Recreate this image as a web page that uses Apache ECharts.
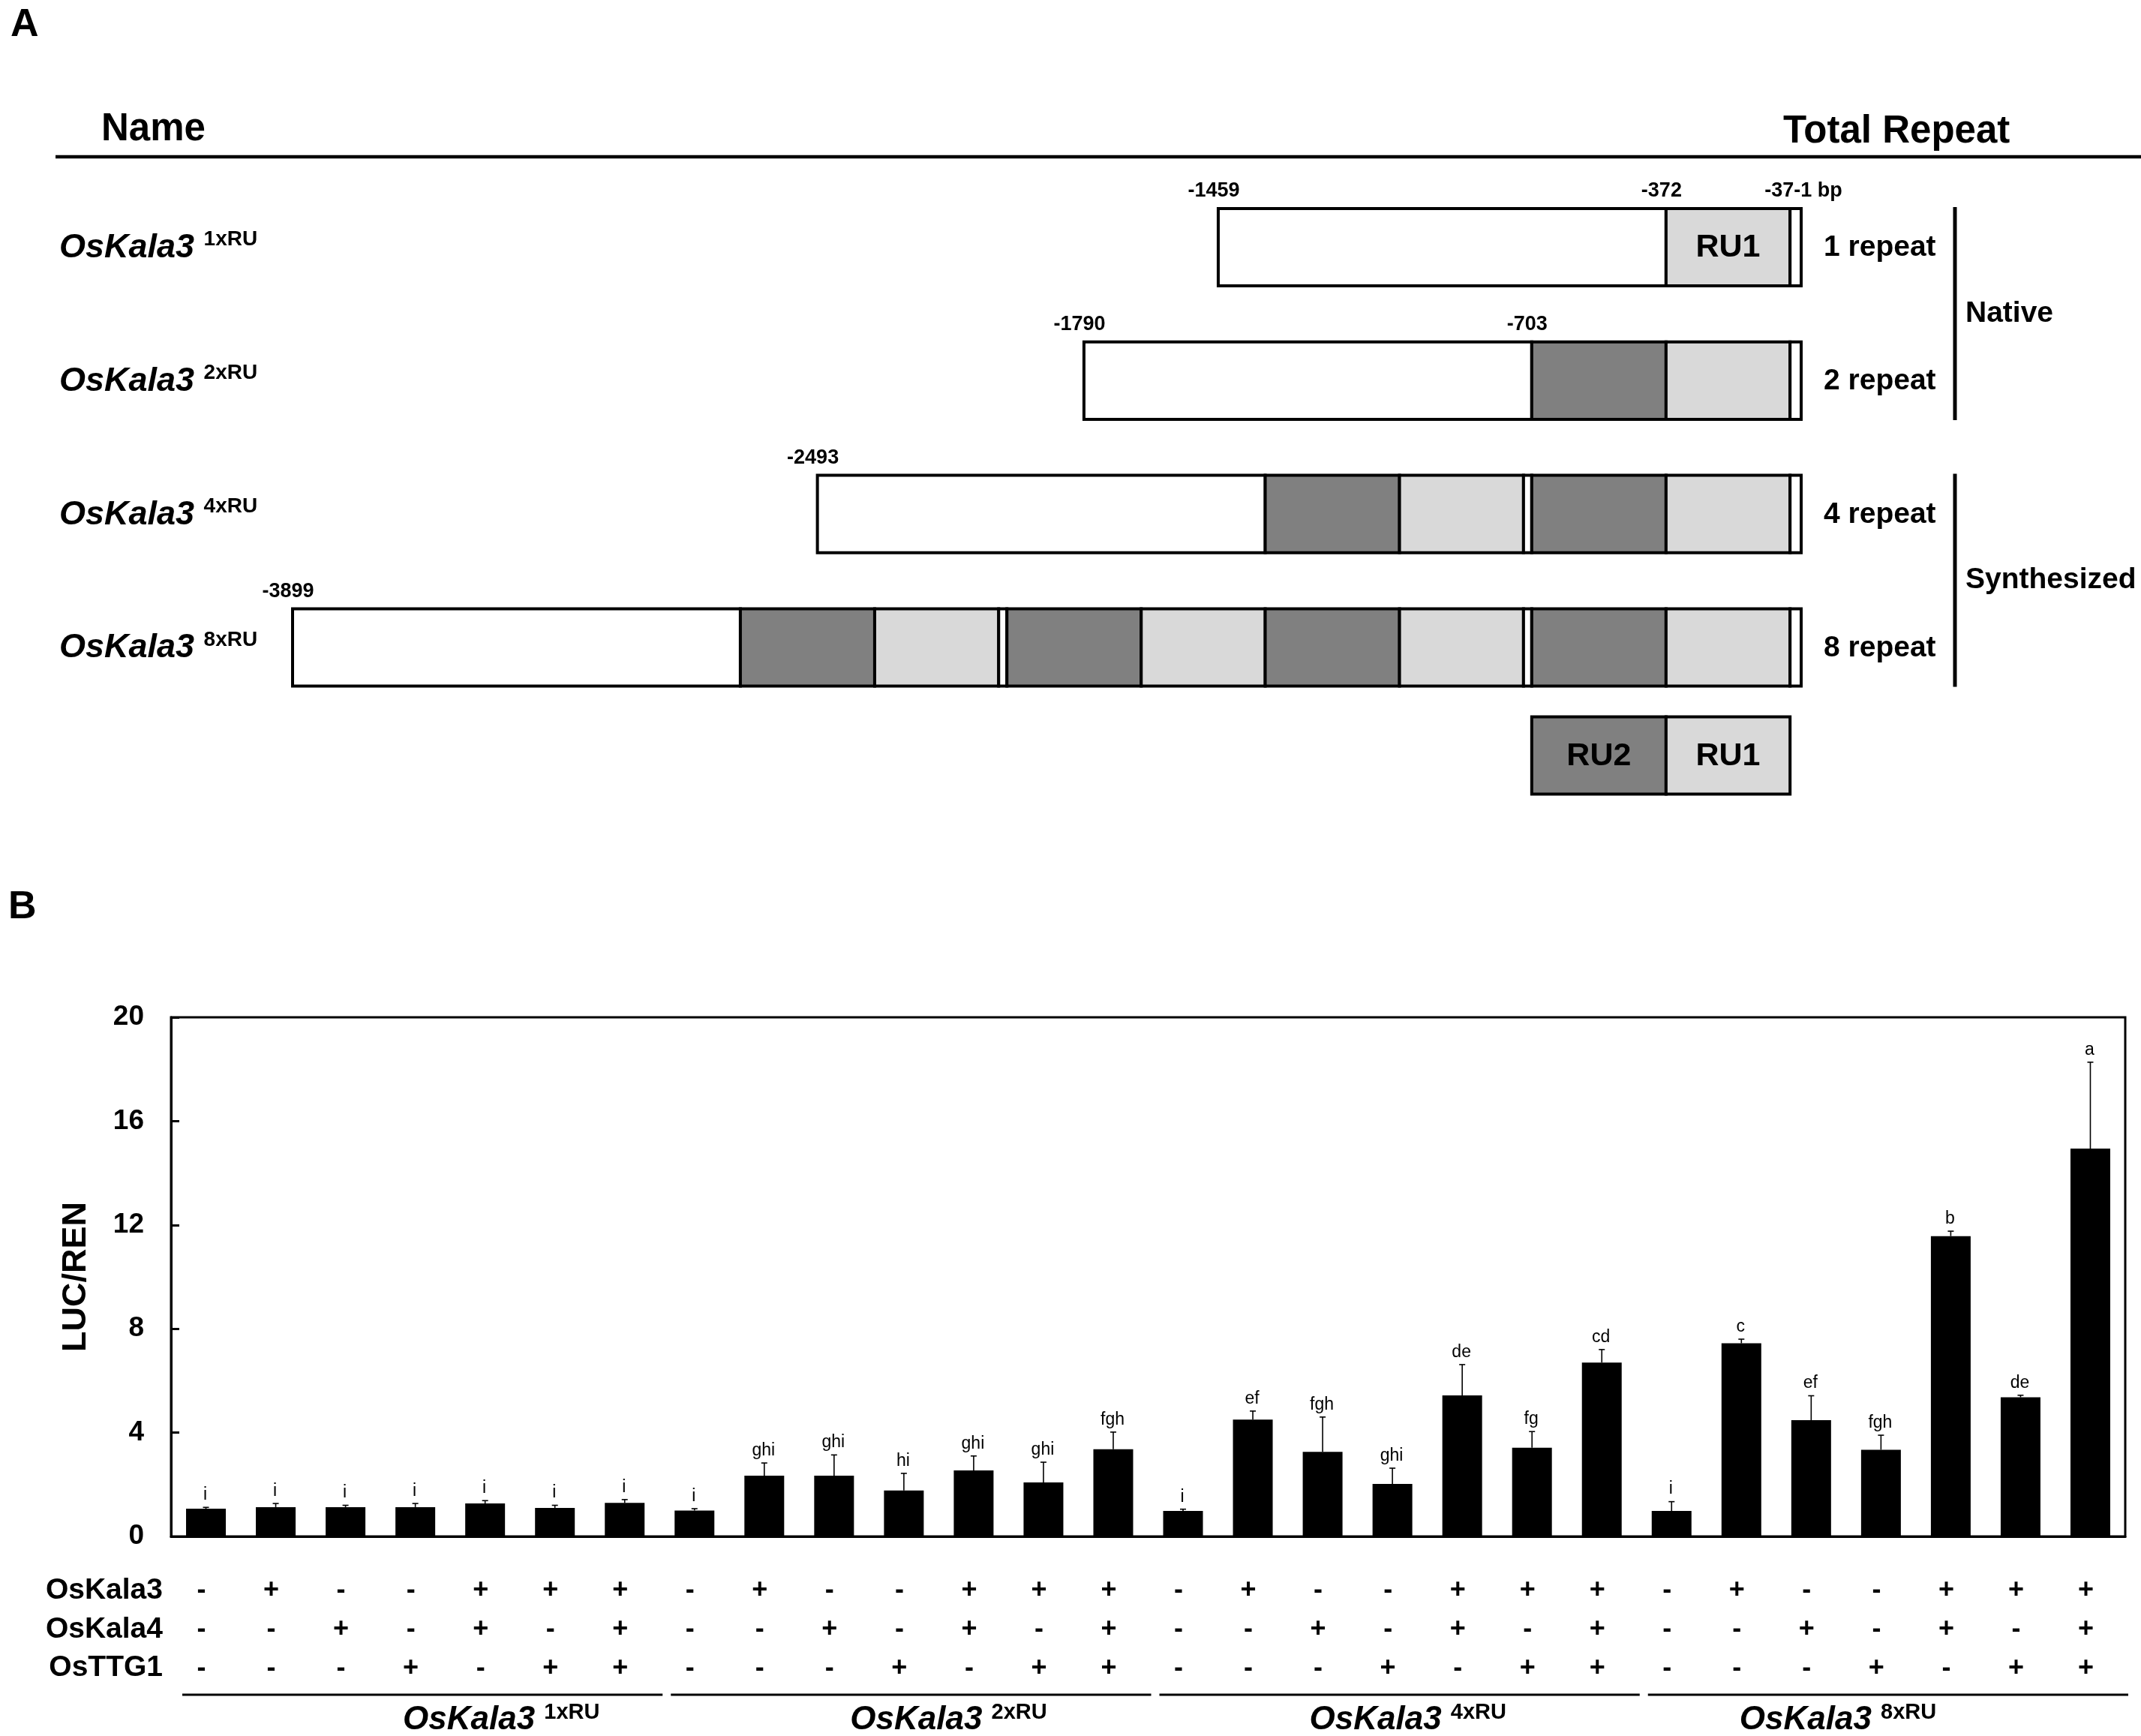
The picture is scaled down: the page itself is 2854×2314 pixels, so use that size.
<!DOCTYPE html>
<html><head><meta charset="utf-8">
<script src="https://cdn.jsdelivr.net/npm/echarts@6/dist/echarts.min.js"></script>
<style>html,body{margin:0;padding:0;background:#fff}#c{width:2854px;height:2314px}</style>
</head><body><div id="c"></div><script>
const FONT = '"Liberation Sans", Arial, Helvetica, sans-serif';

// ---------------- Panel A data ----------------
const constructNames = ['1xRU', '2xRU', '4xRU', '8xRU'];
const repeatLabels = ['1 repeat', '2 repeat', '4 repeat', '8 repeat'];
const rowPositions = [0, 1, 2, 3];
const legendRowPosition = 3.81;
// drawn segment lengths (bp, as drawn in the schematic)
const segmentLengths = { P: 1087, RU2: 326, RU1: 301, G: 20, T: 27 };
const segmentColors = { P: '#ffffff', RU2: '#808080', RU1: '#d9d9d9', G: '#ffffff', T: '#ffffff' };
const layout1x = ['P', 'RU1', 'T'];
const layout2x = ['P', 'RU2', 'RU1', 'T'];
const layout4x = ['P', 'RU2', 'RU1', 'G', 'RU2', 'RU1', 'T'];
const layout8x = ['P', 'RU2', 'RU1', 'G', 'RU2', 'RU1', 'RU2', 'RU1', 'G', 'RU2', 'RU1', 'T'];
const legendLayout = ['RU2', 'RU1'];
// [row, boundary index, text]
const positionLabels = [
  [0, 0, '-1459'], [0, 1, '-372'], [0, 3, '-37-1 bp'],
  [1, 0, '-1790'], [1, 1, '-703'],
  [2, 0, '-2493'],
  [3, 0, '-3899']
];
const insideLabels = [[0, 1, 'RU1']];
const bracketGroups = [[0, 1, 'Native'], [2, 3, 'Synthesized']];

// ---------------- Panel B data ----------------
const groupNames = ['1xRU', '2xRU', '4xRU', '8xRU'];
const groupRanges = [[0, 6], [7, 13], [14, 20], [21, 27]];
const kala3 = ['-','+','-','-','+','+','+', '-','+','-','-','+','+','+', '-','+','-','-','+','+','+', '-','+','-','-','+','+','+'];
const kala4 = ['-','-','+','-','+','-','+', '-','-','+','-','+','-','+', '-','-','+','-','+','-','+', '-','-','+','-','+','-','+'];
const ttg1  = ['-','-','-','+','-','+','+', '-','-','-','+','-','+','+', '-','-','-','+','-','+','+', '-','-','-','+','-','+','+'];
const lucRen = [1.07, 1.13, 1.13, 1.13, 1.27, 1.10, 1.29,
                1.00, 2.34, 2.34, 1.77, 2.54, 2.08, 3.36,
                0.98, 4.50, 3.26, 2.02, 5.43, 3.42, 6.70,
                0.98, 7.44, 4.48, 3.34, 11.57, 5.36, 14.94];
const lucRenErr = [0.05, 0.14, 0.07, 0.14, 0.11, 0.10, 0.13,
                   0.07, 0.49, 0.80, 0.66, 0.56, 0.78, 0.66,
                   0.07, 0.33, 1.34, 0.61, 1.19, 0.62, 0.50,
                   0.36, 0.16, 0.94, 0.56, 0.19, 0.08, 3.33];
const sigLetters = ['i','i','i','i','i','i','i',
                    'i','ghi','ghi','hi','ghi','ghi','fgh',
                    'i','ef','fgh','ghi','de','fg','cd',
                    'i','c','ef','fgh','b','de','a'];
const yMin = 0, yMax = 20, yInterval = 4;
const tableRowNames = ['OsKala3', 'OsKala4', 'OsTTG1'];

// ---------------- layout constants ----------------
const BOX_H = 0.58;
const groupLabelShift = [309, 254, 215, 137];

// ---------------- build panel A segments ----------------
const layouts = [layout1x, layout2x, layout4x, layout8x];
const segData = [];
const boundaries = [];
function buildRow(layout, row, endPos, withText) {
  let total = 0;
  layout.forEach(k => total += segmentLengths[k]);
  let pos = endPos - total;
  const b = [pos];
  layout.forEach((k, j) => {
    const start = pos, end = pos + segmentLengths[k];
    let text = null;
    if (withText) text = k;
    insideLabels.forEach(l => { if (!withText && l[0] === row && l[1] === j) text = l[2]; });
    segData.push({ start, end, row, color: segmentColors[k], text });
    pos = end;
    b.push(pos);
  });
  return b;
}
layouts.forEach((l, r) => boundaries.push(buildRow(l, rowPositions[r], 0, false)));
buildRow(legendLayout, legendRowPosition, -segmentLengths.T, true);
let maxTotal = 0;
layouts.forEach(l => { let t = 0; l.forEach(k => t += segmentLengths[k]); maxTotal = Math.max(maxTotal, t); });

const posLabelData = positionLabels.map(p => [boundaries[p[0]][p[1]], rowPositions[p[0]]]);

const chart = echarts.init(document.getElementById('c'), null, { renderer: 'canvas' });

function txt(x, y, text, size, opts) {
  return {
    type: 'text', x, y,
    style: Object.assign({
      text, fill: '#000', fontFamily: FONT, fontSize: size, fontWeight: 'bold',
      align: 'left', textAlign: 'left', verticalAlign: 'middle', textVerticalAlign: 'middle'
    }, opts || {})
  };
}

const option = {
  animation: false,
  backgroundColor: '#fff',
  textStyle: { fontFamily: FONT, color: '#000' },
  grid: [
    { left: 390, top: 240.6, width: 2011, height: 853.5 },
    { left: 228, top: 1356, width: 2605, height: 692, show: true, borderColor: '#000', borderWidth: 3, backgroundColor: 'transparent' }
  ],
  xAxis: [
    { type: 'value', gridIndex: 0, min: -maxTotal, max: 0, show: false },
    {
      type: 'category', gridIndex: 1, data: lucRen.map((v, i) => 'c' + i),
      axisLine: { lineStyle: { color: '#000', width: 3 } },
      axisTick: { show: false },
      axisLabel: {
        interval: 0, margin: 46, padding: [0, 12, 0, 0],
        formatter: (v, i) => '{s|' + kala3[i] + '}\n{s|' + kala4[i] + '}\n{s|' + ttg1[i] + '}',
        rich: { s: { fontSize: 36, fontWeight: 'bold', lineHeight: 52, color: '#000', fontFamily: FONT } }
      }
    }
  ],
  yAxis: [
    { type: 'value', gridIndex: 0, min: -0.5, max: 4.3, inverse: true, show: false },
    {
      type: 'value', gridIndex: 1, min: yMin, max: yMax, interval: yInterval,
      axisLine: { show: true, lineStyle: { color: '#000', width: 3 } },
      axisTick: { show: true, inside: true, length: 11, lineStyle: { color: '#000', width: 3 } },
      axisLabel: { fontSize: 37, fontWeight: 'bold', color: '#000', margin: 36, fontFamily: FONT },
      splitLine: { show: false },
      name: 'LUC/REN', nameLocation: 'middle', nameGap: 104,
      nameTextStyle: { fontSize: 45, fontWeight: 'bold', color: '#000', fontFamily: FONT }
    }
  ],
  graphic: [
    txt(14, 34, 'A', 52),
    txt(11, 1210, 'B', 52),
    txt(135, 173, 'Name', 51),
    txt(2377, 176, 'Total Repeat', 51),
    { type: 'line', shape: { x1: 74, y1: 209, x2: 2854, y2: 209 }, style: { stroke: '#000', lineWidth: 4.5 } },
    txt(217, 2120, tableRowNames[0], 39, { align: 'right', textAlign: 'right' }),
    txt(217, 2172, tableRowNames[1], 39, { align: 'right', textAlign: 'right' }),
    txt(217, 2223, tableRowNames[2], 39, { align: 'right', textAlign: 'right' })
  ],
  series: [
    // Panel A segments
    {
      type: 'custom', xAxisIndex: 0, yAxisIndex: 0, clip: false,
      data: segData.map(s => [s.start, s.end, s.row]),
      encode: { x: [0, 1], y: 2 },
      renderItem: (params, api) => {
        const s = segData[params.dataIndex];
        const p0 = api.coord([s.start, s.row]);
        const p1 = api.coord([s.end, s.row]);
        const h = api.size([0, BOX_H])[1];
        const ch = [{ type: 'rect', shape: { x: p0[0], y: p0[1] - h / 2, width: p1[0] - p0[0], height: h },
          style: { fill: s.color, stroke: '#000', lineWidth: 4 } }];
        if (s.text) ch.push(txt((p0[0] + p1[0]) / 2, p0[1] + 1, s.text, 43,
          { align: 'center', textAlign: 'center' }));
        return { type: 'group', children: ch };
      }
    },
    // Panel A position labels
    {
      type: 'custom', xAxisIndex: 0, yAxisIndex: 0, clip: false,
      data: posLabelData, encode: { x: 0, y: 1 },
      renderItem: (params, api) => {
        const lab = positionLabels[params.dataIndex];
        const p = api.coord([api.value(0), api.value(1)]);
        const h = api.size([0, BOX_H])[1];
        const isEnd = lab[2].indexOf('bp') >= 0;
        return txt(p[0] + (isEnd ? 3 : -6), p[1] - h / 2 - 23, lab[2], 27,
          { align: 'center', textAlign: 'center' });
      }
    },
    // Panel A row names and repeat labels
    {
      type: 'custom', xAxisIndex: 0, yAxisIndex: 0, clip: false,
      data: rowPositions.map(r => [0, r]), encode: { x: 0, y: 1 },
      renderItem: (params, api) => {
        const i = params.dataIndex;
        const p = api.coord([0, api.value(1)]);
        return { type: 'group', children: [
          {
            type: 'text', x: 79, y: p[1] + 1,
            style: {
              text: '{m|OsKala3 }{s|' + constructNames[i] + '}',
              align: 'left', textAlign: 'left', verticalAlign: 'middle', textVerticalAlign: 'middle',
              rich: {
                m: { fontSize: 45, fontWeight: 'bold', fontStyle: 'italic', fontFamily: FONT, lineHeight: 50, fill: '#000', color: '#000' },
                s: { fontSize: 28, fontWeight: 'bold', fontFamily: FONT, lineHeight: 36, verticalAlign: 'top', fill: '#000', color: '#000' }
              }
            }
          },
          txt(p[0] + 30, p[1] + 1, repeatLabels[i], 39)
        ] };
      }
    },
    // Panel A brackets
    {
      type: 'custom', xAxisIndex: 0, yAxisIndex: 0, clip: false,
      data: bracketGroups.map(g => [0, rowPositions[g[0]], rowPositions[g[1]]]), encode: { x: 0, y: [1, 2] },
      renderItem: (params, api) => {
        const g = bracketGroups[params.dataIndex];
        const h = api.size([0, BOX_H])[1];
        const pa = api.coord([0, api.value(1)]);
        const pb = api.coord([0, api.value(2)]);
        const x = pa[0] + 205;
        const y0 = pa[1] - h / 2 - 2, y1 = pb[1] + h / 2 + 1;
        return { type: 'group', children: [
          { type: 'line', shape: { x1: x, y1: y0, x2: x, y2: y1 }, style: { stroke: '#000', lineWidth: 5 } },
          txt(x + 14, (y0 + y1) / 2, g[2], 39)
        ] };
      }
    },
    // Panel B bars
    {
      type: 'bar', xAxisIndex: 1, yAxisIndex: 1, data: lucRen, barWidth: 53,
      itemStyle: { color: '#000' }, z: 2
    },
    // Panel B error bars
    {
      type: 'custom', xAxisIndex: 1, yAxisIndex: 1, clip: false, z: 3,
      data: lucRen.map((v, i) => [i, v, v + lucRenErr[i]]), encode: { x: 0, y: [1, 2] },
      renderItem: (params, api) => {
        const i = api.value(0);
        const pb = api.coord([i, api.value(1)]);
        const pt = api.coord([i, api.value(2)]);
        return { type: 'group', children: [
          { type: 'line', shape: { x1: pb[0], y1: pb[1], x2: pt[0], y2: pt[1] }, style: { stroke: '#000', lineWidth: 1.6 } },
          { type: 'line', shape: { x1: pt[0] - 4, y1: pt[1], x2: pt[0] + 4, y2: pt[1] }, style: { stroke: '#000', lineWidth: 1.6 } }
        ] };
      }
    },
    // Panel B significance letters
    {
      type: 'custom', xAxisIndex: 1, yAxisIndex: 1, clip: false, z: 3,
      data: lucRen.map((v, i) => [i, v + lucRenErr[i]]), encode: { x: 0, y: 1 },
      renderItem: (params, api) => {
        const p = api.coord([api.value(0), api.value(1)]);
        return txt(p[0] - 1, p[1] - 5, sigLetters[params.dataIndex], 23,
          { fontWeight: 'normal', align: 'center', textAlign: 'center', verticalAlign: 'bottom', textVerticalAlign: 'bottom' });
      }
    },
    // Panel B group lines and labels
    {
      type: 'custom', xAxisIndex: 1, yAxisIndex: 1, clip: false,
      data: groupRanges.map(g => [g[0], g[1], 0]), encode: { x: [0, 1], y: 2 },
      renderItem: (params, api) => {
        const gi = params.dataIndex;
        const band = api.size([1, 0])[0];
        const ps = api.coord([api.value(0), 0]);
        const pe = api.coord([api.value(1), 0]);
        const gs = ps[0] - band / 2, ge = pe[0] + band / 2;
        const y = ps[1] + 211;
        return { type: 'group', children: [
          { type: 'line', shape: { x1: gs + 15, y1: y, x2: ge + 4, y2: y }, style: { stroke: '#000', lineWidth: 3 } },
          {
            type: 'text', x: gs + groupLabelShift[gi], y: ps[1] + 245,
            style: {
              text: '{m|OsKala3 }{s|' + groupNames[gi] + '}',
              align: 'left', textAlign: 'left', verticalAlign: 'middle', textVerticalAlign: 'middle',
              rich: {
                m: { fontSize: 44, fontWeight: 'bold', fontStyle: 'italic', fontFamily: FONT, lineHeight: 50, fill: '#000', color: '#000' },
                s: { fontSize: 29, fontWeight: 'bold', fontFamily: FONT, lineHeight: 36, verticalAlign: 'top', fill: '#000', color: '#000' }
              }
            }
          }
        ] };
      }
    }
  ]
};
chart.setOption(option);
</script></body></html>
